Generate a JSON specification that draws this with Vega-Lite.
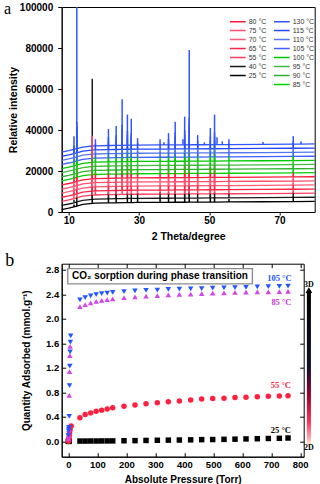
{
"$schema":"https://vega.github.io/schema/vega-lite/v6.json",
"padding":{"left":2.7,"top":0,"right":0,"bottom":0},
"background":"white",
"bounds":"flush",
"spacing":51.7,
"resolve":{"scale":{"color":"independent","shape":"independent"},"legend":{"color":"independent","shape":"independent"}},
"config":{"view":{"stroke":"black","strokeWidth":1},
"axis":{"labelFont":"Liberation Sans","labelFontWeight":"bold","labelColor":"black","titleFont":"Liberation Sans","titleFontWeight":"bold","titleColor":"black","tickColor":"black","domainColor":"black","grid":false,"labelFontSize":10,"titleFontSize":10.5,"labelOverlap":false}},
"datasets":{
"xrd":[
{"T":"25","x":8,"y":1200},{"T":"25","x":10,"y":1900},{"T":"25","x":11.5,"y":2500,"p":3700},{"T":"25","x":12.3,"y":2900,"p":4900},{"T":"25","x":14,"y":3700},{"T":"25","x":16.7,"y":4200,"p":11200},{"T":"25","x":17.6,"y":4300},{"T":"25","x":21.3,"y":4450,"p":7450},{"T":"25","x":23.5,"y":4500,"p":8500},{"T":"25","x":25.2,"y":4550},{"T":"25","x":26.7,"y":4600,"p":7100},{"T":"25","x":27.8,"y":4600,"p":6600},{"T":"25","x":29.6,"y":4650,"p":6650},{"T":"25","x":36,"y":4700,"p":7200},{"T":"25","x":38.4,"y":4700,"p":7200},{"T":"25","x":40.3,"y":4750,"p":8750},{"T":"25","x":43,"y":4750,"p":8250},{"T":"25","x":44.3,"y":4800,"p":9800},{"T":"25","x":46.7,"y":4800,"p":6300},{"T":"25","x":50.3,"y":4850,"p":8350},{"T":"25","x":51.5,"y":4850,"p":7350},{"T":"25","x":55.6,"y":4900,"p":6400},{"T":"25","x":65.3,"y":5000},{"T":"25","x":73.9,"y":5100,"p":7600},{"T":"25","x":80,"y":5200},
{"T":"40","x":8,"y":3200},{"T":"40","x":10,"y":3900},{"T":"40","x":11.5,"y":4500,"p":6000},{"T":"40","x":12.3,"y":4900,"p":7400},{"T":"40","x":14,"y":5700},{"T":"40","x":16.7,"y":6200,"p":65000},{"T":"40","x":17.6,"y":6300},{"T":"40","x":21.3,"y":6450,"p":9950},{"T":"40","x":23.5,"y":6500,"p":17000},{"T":"40","x":25.2,"y":6550},{"T":"40","x":26.7,"y":6600,"p":9600},{"T":"40","x":27.8,"y":6600,"p":9100},{"T":"40","x":29.6,"y":6650,"p":9150},{"T":"40","x":36,"y":6700,"p":9700},{"T":"40","x":38.4,"y":6700,"p":9700},{"T":"40","x":40.3,"y":6750,"p":11750},{"T":"40","x":43,"y":6750,"p":11250},{"T":"40","x":44.3,"y":6800,"p":13300},{"T":"40","x":46.7,"y":6800,"p":8800},{"T":"40","x":50.3,"y":6850,"p":10850},{"T":"40","x":51.5,"y":6850,"p":9850},{"T":"40","x":55.6,"y":6900,"p":8900},{"T":"40","x":65.3,"y":7000},{"T":"40","x":73.9,"y":7100,"p":10100},{"T":"40","x":80,"y":7200},
{"T":"55","x":8,"y":5200},{"T":"55","x":10,"y":5900},{"T":"55","x":11.5,"y":6500,"p":9500},{"T":"55","x":12.3,"y":6900,"p":14900},{"T":"55","x":14,"y":7700},{"T":"55","x":16.7,"y":8200,"p":37200},{"T":"55","x":17.6,"y":8300,"p":11300},{"T":"55","x":21.3,"y":8450,"p":12950},{"T":"55","x":23.5,"y":8500,"p":13000},{"T":"55","x":25.2,"y":8550,"p":17550},{"T":"55","x":26.7,"y":8600,"p":14600},{"T":"55","x":27.8,"y":8600,"p":14600},{"T":"55","x":29.6,"y":8650,"p":11150},{"T":"55","x":36,"y":8700,"p":11200},{"T":"55","x":38.4,"y":8700,"p":13200},{"T":"55","x":40.3,"y":8750,"p":15750},{"T":"55","x":43,"y":8750,"p":16750},{"T":"55","x":44.3,"y":8800,"p":17800},{"T":"55","x":46.7,"y":8800,"p":12300},{"T":"55","x":50.3,"y":8850,"p":13850},{"T":"55","x":51.5,"y":8850,"p":14850},{"T":"55","x":55.6,"y":8900,"p":10900},{"T":"55","x":65.3,"y":9000},{"T":"55","x":73.9,"y":9100,"p":12100},{"T":"55","x":80,"y":9200},
{"T":"65","x":8,"y":7200},{"T":"65","x":10,"y":7900},{"T":"65","x":11.5,"y":8500,"p":11500},{"T":"65","x":12.3,"y":8900,"p":16900},{"T":"65","x":14,"y":9700},{"T":"65","x":16.7,"y":10200,"p":26200},{"T":"65","x":17.6,"y":10300,"p":13300},{"T":"65","x":21.3,"y":10450,"p":14950},{"T":"65","x":23.5,"y":10500,"p":15000},{"T":"65","x":25.2,"y":10550,"p":19550},{"T":"65","x":26.7,"y":10600,"p":16600},{"T":"65","x":27.8,"y":10600,"p":16600},{"T":"65","x":29.6,"y":10650,"p":13150},{"T":"65","x":36,"y":10700,"p":13200},{"T":"65","x":38.4,"y":10700,"p":15200},{"T":"65","x":40.3,"y":10750,"p":17750},{"T":"65","x":43,"y":10750,"p":18750},{"T":"65","x":44.3,"y":10800,"p":19800},{"T":"65","x":46.7,"y":10800,"p":14300},{"T":"65","x":50.3,"y":10850,"p":15850},{"T":"65","x":51.5,"y":10850,"p":16850},{"T":"65","x":55.6,"y":10900,"p":12900},{"T":"65","x":65.3,"y":11000},{"T":"65","x":73.9,"y":11100,"p":14100},{"T":"65","x":80,"y":11200},
{"T":"70","x":8,"y":9200},{"T":"70","x":10,"y":9900},{"T":"70","x":11.5,"y":10500,"p":13500},{"T":"70","x":12.3,"y":10900,"p":18900},{"T":"70","x":14,"y":11700},{"T":"70","x":16.7,"y":12200,"p":22200},{"T":"70","x":17.6,"y":12300,"p":15300},{"T":"70","x":21.3,"y":12450,"p":16950},{"T":"70","x":23.5,"y":12500,"p":17000},{"T":"70","x":25.2,"y":12550,"p":21550},{"T":"70","x":26.7,"y":12600,"p":18600},{"T":"70","x":27.8,"y":12600,"p":18600},{"T":"70","x":29.6,"y":12650,"p":15150},{"T":"70","x":36,"y":12700,"p":15200},{"T":"70","x":38.4,"y":12700,"p":17200},{"T":"70","x":40.3,"y":12750,"p":19750},{"T":"70","x":43,"y":12750,"p":20750},{"T":"70","x":44.3,"y":12800,"p":21800},{"T":"70","x":46.7,"y":12800,"p":16300},{"T":"70","x":50.3,"y":12850,"p":17850},{"T":"70","x":51.5,"y":12850,"p":18850},{"T":"70","x":55.6,"y":12900,"p":14900},{"T":"70","x":65.3,"y":13000},{"T":"70","x":73.9,"y":13100,"p":16100},{"T":"70","x":80,"y":13200},
{"T":"75","x":8,"y":11200},{"T":"75","x":10,"y":11900},{"T":"75","x":11.5,"y":12500,"p":15500},{"T":"75","x":12.3,"y":12900,"p":20900},{"T":"75","x":14,"y":13700},{"T":"75","x":16.7,"y":14200,"p":20200},{"T":"75","x":17.6,"y":14300,"p":17300},{"T":"75","x":21.3,"y":14450,"p":18950},{"T":"75","x":23.5,"y":14500,"p":19000},{"T":"75","x":25.2,"y":14550,"p":23550},{"T":"75","x":26.7,"y":14600,"p":20600},{"T":"75","x":27.8,"y":14600,"p":20600},{"T":"75","x":29.6,"y":14650,"p":17150},{"T":"75","x":36,"y":14700,"p":17200},{"T":"75","x":38.4,"y":14700,"p":19200},{"T":"75","x":40.3,"y":14750,"p":21750},{"T":"75","x":43,"y":14750,"p":22750},{"T":"75","x":44.3,"y":14800,"p":23800},{"T":"75","x":46.7,"y":14800,"p":18300},{"T":"75","x":50.3,"y":14850,"p":19850},{"T":"75","x":51.5,"y":14850,"p":20850},{"T":"75","x":55.6,"y":14900,"p":16900},{"T":"75","x":65.3,"y":15000},{"T":"75","x":73.9,"y":15100,"p":18100},{"T":"75","x":80,"y":15200},
{"T":"80","x":8,"y":13200},{"T":"80","x":10,"y":13900},{"T":"80","x":11.5,"y":14500,"p":17500},{"T":"80","x":12.3,"y":14900,"p":22900},{"T":"80","x":14,"y":15700},{"T":"80","x":16.7,"y":16200,"p":19200},{"T":"80","x":17.6,"y":16300,"p":19300},{"T":"80","x":21.3,"y":16450,"p":20950},{"T":"80","x":23.5,"y":16500,"p":21000},{"T":"80","x":25.2,"y":16550,"p":25550},{"T":"80","x":26.7,"y":16600,"p":22600},{"T":"80","x":27.8,"y":16600,"p":22600},{"T":"80","x":29.6,"y":16650,"p":19150},{"T":"80","x":36,"y":16700,"p":19200},{"T":"80","x":38.4,"y":16700,"p":21200},{"T":"80","x":40.3,"y":16750,"p":23750},{"T":"80","x":43,"y":16750,"p":24750},{"T":"80","x":44.3,"y":16800,"p":25800},{"T":"80","x":46.7,"y":16800,"p":20300},{"T":"80","x":50.3,"y":16850,"p":21850},{"T":"80","x":51.5,"y":16850,"p":22850},{"T":"80","x":55.6,"y":16900,"p":18900},{"T":"80","x":65.3,"y":17000},{"T":"80","x":73.9,"y":17100,"p":20100},{"T":"80","x":80,"y":17200},
{"T":"85","x":8,"y":15200},{"T":"85","x":10,"y":15900},{"T":"85","x":11.5,"y":16500,"p":20000},{"T":"85","x":12.3,"y":16900,"p":26900},{"T":"85","x":14,"y":17700},{"T":"85","x":16.7,"y":18200,"p":20200},{"T":"85","x":17.6,"y":18300,"p":21300},{"T":"85","x":21.3,"y":18450,"p":23450},{"T":"85","x":23.5,"y":18500,"p":24000},{"T":"85","x":25.2,"y":18550,"p":27550},{"T":"85","x":26.7,"y":18600,"p":25600},{"T":"85","x":27.8,"y":18600,"p":25600},{"T":"85","x":29.6,"y":18650,"p":21150},{"T":"85","x":36,"y":18700,"p":21200},{"T":"85","x":38.4,"y":18700,"p":23200},{"T":"85","x":40.3,"y":18750,"p":25750},{"T":"85","x":43,"y":18750,"p":26750},{"T":"85","x":44.3,"y":18800,"p":29800},{"T":"85","x":46.7,"y":18800,"p":22300},{"T":"85","x":50.3,"y":18850,"p":24350},{"T":"85","x":51.5,"y":18850,"p":25850},{"T":"85","x":55.6,"y":18900,"p":21400},{"T":"85","x":65.3,"y":19000},{"T":"85","x":73.9,"y":19100,"p":22600},{"T":"85","x":80,"y":19200},
{"T":"90","x":8,"y":17200},{"T":"90","x":10,"y":17900},{"T":"90","x":11.5,"y":18500,"p":22000},{"T":"90","x":12.3,"y":18900,"p":28900},{"T":"90","x":14,"y":19700},{"T":"90","x":16.7,"y":20200,"p":22200},{"T":"90","x":17.6,"y":20300,"p":23300},{"T":"90","x":21.3,"y":20450,"p":25450},{"T":"90","x":23.5,"y":20500,"p":26000},{"T":"90","x":25.2,"y":20550,"p":29550},{"T":"90","x":26.7,"y":20600,"p":27600},{"T":"90","x":27.8,"y":20600,"p":27600},{"T":"90","x":29.6,"y":20650,"p":23150},{"T":"90","x":36,"y":20700,"p":23200},{"T":"90","x":38.4,"y":20700,"p":25200},{"T":"90","x":40.3,"y":20750,"p":27750},{"T":"90","x":43,"y":20750,"p":28750},{"T":"90","x":44.3,"y":20800,"p":31800},{"T":"90","x":46.7,"y":20800,"p":24300},{"T":"90","x":50.3,"y":20850,"p":26350},{"T":"90","x":51.5,"y":20850,"p":27850},{"T":"90","x":55.6,"y":20900,"p":23400},{"T":"90","x":65.3,"y":21000},{"T":"90","x":73.9,"y":21100,"p":24600},{"T":"90","x":80,"y":21200},
{"T":"95","x":8,"y":19200},{"T":"95","x":10,"y":19900},{"T":"95","x":11.5,"y":20500,"p":24000},{"T":"95","x":12.3,"y":20900,"p":30900},{"T":"95","x":14,"y":21700},{"T":"95","x":16.7,"y":22200,"p":24200},{"T":"95","x":17.6,"y":22300,"p":25300},{"T":"95","x":21.3,"y":22450,"p":27450},{"T":"95","x":23.5,"y":22500,"p":28000},{"T":"95","x":25.2,"y":22550,"p":31550},{"T":"95","x":26.7,"y":22600,"p":29600},{"T":"95","x":27.8,"y":22600,"p":29600},{"T":"95","x":29.6,"y":22650,"p":25150},{"T":"95","x":36,"y":22700,"p":25200},{"T":"95","x":38.4,"y":22700,"p":27200},{"T":"95","x":40.3,"y":22750,"p":29750},{"T":"95","x":43,"y":22750,"p":30750},{"T":"95","x":44.3,"y":22800,"p":33800},{"T":"95","x":46.7,"y":22800,"p":26300},{"T":"95","x":50.3,"y":22850,"p":28350},{"T":"95","x":51.5,"y":22850,"p":29850},{"T":"95","x":55.6,"y":22900,"p":25400},{"T":"95","x":65.3,"y":23000},{"T":"95","x":73.9,"y":23100,"p":26600},{"T":"95","x":80,"y":23200},
{"T":"100","x":8,"y":21200},{"T":"100","x":10,"y":21900},{"T":"100","x":11.5,"y":22500,"p":26000},{"T":"100","x":12.3,"y":22900,"p":32900},{"T":"100","x":14,"y":23700},{"T":"100","x":16.7,"y":24200,"p":26200},{"T":"100","x":17.6,"y":24300,"p":27300},{"T":"100","x":21.3,"y":24450,"p":29450},{"T":"100","x":23.5,"y":24500,"p":30000},{"T":"100","x":25.2,"y":24550,"p":33550},{"T":"100","x":26.7,"y":24600,"p":31600},{"T":"100","x":27.8,"y":24600,"p":31600},{"T":"100","x":29.6,"y":24650,"p":27150},{"T":"100","x":36,"y":24700,"p":27200},{"T":"100","x":38.4,"y":24700,"p":29200},{"T":"100","x":40.3,"y":24750,"p":31750},{"T":"100","x":43,"y":24750,"p":32750},{"T":"100","x":44.3,"y":24800,"p":35800},{"T":"100","x":46.7,"y":24800,"p":28300},{"T":"100","x":50.3,"y":24850,"p":30350},{"T":"100","x":51.5,"y":24850,"p":31850},{"T":"100","x":55.6,"y":24900,"p":27400},{"T":"100","x":65.3,"y":25000},{"T":"100","x":73.9,"y":25100,"p":28600},{"T":"100","x":80,"y":25200},
{"T":"105","x":8,"y":23200},{"T":"105","x":10,"y":23900},{"T":"105","x":11.5,"y":24500,"p":28500},{"T":"105","x":12.3,"y":24900,"p":39900},{"T":"105","x":14,"y":25700},{"T":"105","x":16.7,"y":26200},{"T":"105","x":17.6,"y":26300,"p":29300},{"T":"105","x":21.3,"y":26450,"p":32450},{"T":"105","x":23.5,"y":26500,"p":33500},{"T":"105","x":25.2,"y":26550,"p":38550},{"T":"105","x":26.7,"y":26600,"p":35600},{"T":"105","x":27.8,"y":26600,"p":34600},{"T":"105","x":29.6,"y":26650,"p":29650},{"T":"105","x":36,"y":26700,"p":29200},{"T":"105","x":38.4,"y":26700,"p":31700},{"T":"105","x":40.3,"y":26750,"p":34750},{"T":"105","x":43,"y":26750,"p":35750},{"T":"105","x":44.3,"y":26800,"p":41800},{"T":"105","x":46.7,"y":26800,"p":30800},{"T":"105","x":50.3,"y":26850,"p":32850},{"T":"105","x":51.5,"y":26850,"p":34850},{"T":"105","x":55.6,"y":26900,"p":29400},{"T":"105","x":65.3,"y":27000},{"T":"105","x":73.9,"y":27100,"p":30600},{"T":"105","x":80,"y":27200},
{"T":"110","x":8,"y":25200},{"T":"110","x":10,"y":25900},{"T":"110","x":11.5,"y":26500,"p":30500},{"T":"110","x":12.3,"y":26900,"p":41900},{"T":"110","x":14,"y":27700},{"T":"110","x":16.7,"y":28200},{"T":"110","x":17.6,"y":28300,"p":31300},{"T":"110","x":21.3,"y":28450,"p":34450},{"T":"110","x":23.5,"y":28500,"p":35500},{"T":"110","x":25.2,"y":28550,"p":40550},{"T":"110","x":26.7,"y":28600,"p":37600},{"T":"110","x":27.8,"y":28600,"p":36600},{"T":"110","x":29.6,"y":28650,"p":31650},{"T":"110","x":36,"y":28700,"p":31200},{"T":"110","x":38.4,"y":28700,"p":33700},{"T":"110","x":40.3,"y":28750,"p":36750},{"T":"110","x":43,"y":28750,"p":37750},{"T":"110","x":44.3,"y":28800,"p":43800},{"T":"110","x":46.7,"y":28800,"p":32800},{"T":"110","x":50.3,"y":28850,"p":34850},{"T":"110","x":51.5,"y":28850,"p":36850},{"T":"110","x":55.6,"y":28900,"p":31400},{"T":"110","x":65.3,"y":29000},{"T":"110","x":73.9,"y":29100,"p":32600},{"T":"110","x":80,"y":29200},
{"T":"115","x":8,"y":27200},{"T":"115","x":10,"y":27900},{"T":"115","x":11.5,"y":28500,"p":32500},{"T":"115","x":12.3,"y":28900,"p":43900},{"T":"115","x":14,"y":29700},{"T":"115","x":16.7,"y":30200},{"T":"115","x":17.6,"y":30300,"p":33300},{"T":"115","x":21.3,"y":30450,"p":36450},{"T":"115","x":23.5,"y":30500,"p":37500},{"T":"115","x":25.2,"y":30550,"p":42550},{"T":"115","x":26.7,"y":30600,"p":39600},{"T":"115","x":27.8,"y":30600,"p":38600},{"T":"115","x":29.6,"y":30650,"p":33650},{"T":"115","x":36,"y":30700,"p":33200},{"T":"115","x":38.4,"y":30700,"p":35700},{"T":"115","x":40.3,"y":30750,"p":38750},{"T":"115","x":43,"y":30750,"p":39750},{"T":"115","x":44.3,"y":30800,"p":45800},{"T":"115","x":46.7,"y":30800,"p":34800},{"T":"115","x":50.3,"y":30850,"p":36850},{"T":"115","x":51.5,"y":30850,"p":38850},{"T":"115","x":55.6,"y":30900,"p":33400},{"T":"115","x":65.3,"y":31000},{"T":"115","x":73.9,"y":31100,"p":34600},{"T":"115","x":80,"y":31200},
{"T":"130","x":8,"y":29200},{"T":"130","x":10,"y":29900},{"T":"130","x":11.5,"y":30500,"p":37000},{"T":"130","x":12.3,"y":30900,"p":100000},{"T":"130","x":14,"y":31700},{"T":"130","x":16.7,"y":32200},{"T":"130","x":17.6,"y":32300,"p":35500},{"T":"130","x":21.3,"y":32450,"p":40500},{"T":"130","x":23.5,"y":32500,"p":42000},{"T":"130","x":25.2,"y":32550,"p":55000},{"T":"130","x":26.7,"y":32600,"p":47500},{"T":"130","x":27.8,"y":32600,"p":45500},{"T":"130","x":29.6,"y":32650,"p":36000},{"T":"130","x":36,"y":32700,"p":35500},{"T":"130","x":37.1,"y":32700,"p":34000},{"T":"130","x":38.4,"y":32700,"p":38500},{"T":"130","x":40.3,"y":32750,"p":44000},{"T":"130","x":42.5,"y":32750,"p":35500},{"T":"130","x":43,"y":32750,"p":46500},{"T":"130","x":44.3,"y":32800,"p":79000},{"T":"130","x":46.7,"y":32800,"p":37500},{"T":"130","x":48.6,"y":32800,"p":34000},{"T":"130","x":50.3,"y":32850,"p":41000},{"T":"130","x":51.5,"y":32850,"p":47500},{"T":"130","x":52.2,"y":32850,"p":36500},{"T":"130","x":53.7,"y":32900,"p":34500},{"T":"130","x":55.6,"y":32900,"p":35500},{"T":"130","x":65.3,"y":33000,"p":34200},{"T":"130","x":73.9,"y":33100,"p":37000},{"T":"130","x":76.1,"y":33150,"p":34500},{"T":"130","x":80,"y":33200}
],
"iso":[
{"s":"25","P":0,"Q":0},{"s":"25","P":1,"Q":0},{"s":"25","P":3,"Q":0.005},{"s":"25","P":40,"Q":0.005},{"s":"25","P":58,"Q":0.005},{"s":"25","P":77,"Q":0.006},{"s":"25","P":96,"Q":0.006},{"s":"25","P":115,"Q":0.007},{"s":"25","P":134,"Q":0.007},{"s":"25","P":153,"Q":0.008},{"s":"25","P":192,"Q":0.01},{"s":"25","P":230,"Q":0.012},{"s":"25","P":268,"Q":0.015},{"s":"25","P":307,"Q":0.018},{"s":"25","P":345,"Q":0.02},{"s":"25","P":383,"Q":0.022},{"s":"25","P":422,"Q":0.025},{"s":"25","P":460,"Q":0.028},{"s":"25","P":498,"Q":0.03},{"s":"25","P":537,"Q":0.033},{"s":"25","P":575,"Q":0.036},{"s":"25","P":613,"Q":0.04},{"s":"25","P":652,"Q":0.043},{"s":"25","P":690,"Q":0.047},{"s":"25","P":728,"Q":0.05},{"s":"25","P":758,"Q":0.055},
{"s":"55","P":0.5,"Q":0},{"s":"55","P":1,"Q":0.02},{"s":"55","P":2,"Q":0.05},{"s":"55","P":3,"Q":0.09},{"s":"55","P":4,"Q":0.13},{"s":"55","P":5,"Q":0.17},{"s":"55","P":6,"Q":0.21},{"s":"55","P":10,"Q":0.25},{"s":"55","P":40,"Q":0.385},{"s":"55","P":58,"Q":0.44},{"s":"55","P":77,"Q":0.465},{"s":"55","P":96,"Q":0.49},{"s":"55","P":115,"Q":0.51},{"s":"55","P":134,"Q":0.53},{"s":"55","P":153,"Q":0.55},{"s":"55","P":192,"Q":0.575},{"s":"55","P":230,"Q":0.595},{"s":"55","P":268,"Q":0.615},{"s":"55","P":307,"Q":0.63},{"s":"55","P":345,"Q":0.645},{"s":"55","P":383,"Q":0.66},{"s":"55","P":422,"Q":0.675},{"s":"55","P":460,"Q":0.69},{"s":"55","P":498,"Q":0.7},{"s":"55","P":537,"Q":0.705},{"s":"55","P":575,"Q":0.715},{"s":"55","P":613,"Q":0.72},{"s":"55","P":652,"Q":0.73},{"s":"55","P":690,"Q":0.735},{"s":"55","P":728,"Q":0.74},{"s":"55","P":758,"Q":0.745},
{"s":"85","P":0.5,"Q":0.04},{"s":"85","P":1,"Q":0.09},{"s":"85","P":1.5,"Q":0.14},{"s":"85","P":2,"Q":0.19},{"s":"85","P":3,"Q":0.75},{"s":"85","P":4,"Q":1.14},{"s":"85","P":5,"Q":1.4},{"s":"85","P":6,"Q":1.55},{"s":"85","P":40,"Q":2.2},{"s":"85","P":58,"Q":2.23},{"s":"85","P":77,"Q":2.26},{"s":"85","P":96,"Q":2.285},{"s":"85","P":115,"Q":2.3},{"s":"85","P":134,"Q":2.315},{"s":"85","P":153,"Q":2.325},{"s":"85","P":192,"Q":2.345},{"s":"85","P":230,"Q":2.36},{"s":"85","P":268,"Q":2.37},{"s":"85","P":307,"Q":2.38},{"s":"85","P":345,"Q":2.39},{"s":"85","P":383,"Q":2.4},{"s":"85","P":422,"Q":2.405},{"s":"85","P":460,"Q":2.41},{"s":"85","P":498,"Q":2.42},{"s":"85","P":537,"Q":2.425},{"s":"85","P":575,"Q":2.43},{"s":"85","P":613,"Q":2.435},{"s":"85","P":652,"Q":2.44},{"s":"85","P":690,"Q":2.44},{"s":"85","P":728,"Q":2.445},{"s":"85","P":758,"Q":2.45},
{"s":"105","P":0.5,"Q":0.1},{"s":"105","P":1,"Q":0.17},{"s":"105","P":1.5,"Q":0.2},{"s":"105","P":2,"Q":0.23},{"s":"105","P":3,"Q":0.41},{"s":"105","P":4,"Q":0.91},{"s":"105","P":5,"Q":1.23},{"s":"105","P":6,"Q":1.46},{"s":"105","P":7,"Q":1.62},{"s":"105","P":8,"Q":1.72},{"s":"105","P":40,"Q":2.31},{"s":"105","P":58,"Q":2.345},{"s":"105","P":77,"Q":2.375},{"s":"105","P":96,"Q":2.395},{"s":"105","P":115,"Q":2.41},{"s":"105","P":134,"Q":2.42},{"s":"105","P":153,"Q":2.43},{"s":"105","P":192,"Q":2.445},{"s":"105","P":230,"Q":2.455},{"s":"105","P":268,"Q":2.465},{"s":"105","P":307,"Q":2.47},{"s":"105","P":345,"Q":2.48},{"s":"105","P":383,"Q":2.485},{"s":"105","P":422,"Q":2.49},{"s":"105","P":460,"Q":2.495},{"s":"105","P":498,"Q":2.5},{"s":"105","P":537,"Q":2.505},{"s":"105","P":575,"Q":2.51},{"s":"105","P":613,"Q":2.515},{"s":"105","P":652,"Q":2.52},{"s":"105","P":690,"Q":2.525},{"s":"105","P":728,"Q":2.53},{"s":"105","P":758,"Q":2.535}
]},
"vconcat":[
{"width":253,"height":205,
"layer":[
{"data":{"name":"xrd"},"mark":{"type":"line","strokeWidth":1.3},
"encoding":{
"x":{"field":"x","type":"quantitative","scale":{"domain":[8,80],"nice":false,"zero":false},"axis":{"values":[10,20,30,40,50,60,70,80],"title":"2 Theta/degree","tickSize":3,"labelPadding":0,"titlePadding":6,"labelOverlap":false}},
"y":{"field":"y","type":"quantitative","scale":{"domain":[0,100000],"nice":false},"axis":{"values":[0,20000,40000,60000,80000,100000],"format":"d","title":"Relative intensity","tickSize":4,"labelPadding":5,"titlePadding":1,"labelOverlap":false}},
"color":{"field":"T","type":"nominal","scale":{"domain":["80","75","70","65","55","40","25"," ","130","115","110","105","100","95","90","85"],"range":["#ff1a3c","#ff4d6d","#ff5c78","#ff2445","#ff3d5e","#1a1a1a","#000000","rgba(0,0,0,0)","#3355ff","#2447ff","#5577ee","#3d5fff","#00c800","#3cbf3c","#2db32d","#00d400"]},
"legend":{"title":null,"orient":"none","legendX":176,"legendY":10,"columns":2,"columnPadding":4,"rowPadding":1,"symbolType":"M-3.5,0L1,0","symbolSize":49,"symbolStrokeWidth":1.5,"labelFont":"Liberation Sans","labelFontSize":7,"labelColor":"#333333","labelOffset":2,"padding":0,"labelExpr":"datum.label == ' ' ? '' : datum.label + ' °C'"}}}},
{"data":{"name":"xrd"},"transform":[{"filter":{"field":"p","valid":true}}],"mark":{"type":"rule","strokeWidth":1.5},
"encoding":{"x":{"field":"x","type":"quantitative"},"y":{"field":"y","type":"quantitative"},"y2":{"field":"p"},"color":{"field":"T","type":"nominal"}}},
{"data":{"values":[{}]},"mark":{"type":"text","text":"a","font":"Liberation Serif","fontSize":16,"align":"left","baseline":"alphabetic","color":"black"},
"encoding":{"x":{"datum":-8.4},"y":{"datum":96700}}}
]},
{"width":242,"height":193,
"resolve":{"axis":{"x":"independent","y":"independent"}},
"layer":[
{"data":{"name":"iso"},"mark":{"type":"point","filled":true,"opacity":1,"size":30},
"encoding":{
"x":{"field":"P","type":"quantitative","scale":{"domain":[-23,812],"nice":false,"zero":false},"axis":{"orient":"bottom","values":[0,100,200,300,400,500,600,700,800],"title":"Absolute Pressure (Torr)","tickSize":-4,"labelPadding":7,"titlePadding":5,"labelFontSize":9.5,"titleFontSize":10,"labelOverlap":false}},
"y":{"field":"Q","type":"quantitative","scale":{"domain":[-0.25,2.9],"nice":false,"zero":false},"axis":{"orient":"left","values":[0,0.4,0.8,1.2,1.6,2,2.4,2.8],"format":".1f","title":"Quantity Adsorbed (mmol.g⁻¹)","tickSize":-4,"labelPadding":7,"titlePadding":14,"labelFontSize":9.5,"titleFontSize":10,"labelOverlap":false}},
"color":{"field":"s","type":"nominal","scale":{"domain":["25","55","85","105"],"range":["#000000","#ff2040","#d444e8","#2255ff"]},"legend":null},
"shape":{"field":"s","type":"nominal","scale":{"domain":["25","55","85","105"],"range":["square","circle","triangle-up","triangle-down"]},"legend":null}}},
{"data":{"name":"iso"},"mark":{"type":"point","opacity":0,"size":1},
"encoding":{
"x":{"field":"P","type":"quantitative","axis":{"orient":"top","values":[0,100,200,300,400,500,600,700,800],"labels":false,"title":null,"tickSize":-4,"domain":false}},
"y":{"field":"Q","type":"quantitative","axis":{"orient":"right","values":[0,0.4,0.8,1.2,1.6,2,2.4,2.8],"labels":false,"title":null,"tickSize":-4,"domain":false}}}},
{"data":{"values":[{}]},"mark":{"type":"rect","fill":"white","stroke":"#8a8a8a","strokeWidth":1.3},
"encoding":{"x":{"datum":-2,"axis":null},"x2":{"datum":635},"y":{"datum":2.57,"axis":null},"y2":{"datum":2.82}}},
{"data":{"values":[{}]},"mark":{"type":"text","text":"CO₂ sorption during phase transition","font":"Liberation Sans","fontWeight":"bold","fontSize":10,"align":"center","baseline":"middle","color":"black"},
"encoding":{"x":{"datum":316,"axis":null},"y":{"datum":2.695,"axis":null}}},
{"data":{"values":[{}]},"mark":{"type":"text","text":"105 °C","font":"Liberation Serif","fontWeight":"bold","fontSize":8.5,"align":"right","baseline":"middle","color":"#2255ff"},
"encoding":{"x":{"datum":770,"axis":null},"y":{"datum":2.67,"axis":null}}},
{"data":{"values":[{}]},"mark":{"type":"text","text":"85 °C","font":"Liberation Serif","fontWeight":"bold","fontSize":8.5,"align":"right","baseline":"middle","color":"#cc33dd"},
"encoding":{"x":{"datum":770,"axis":null},"y":{"datum":2.27,"axis":null}}},
{"data":{"values":[{}]},"mark":{"type":"text","text":"55 °C","font":"Liberation Serif","fontWeight":"bold","fontSize":8.5,"align":"right","baseline":"middle","color":"#ff2040"},
"encoding":{"x":{"datum":768,"axis":null},"y":{"datum":0.92,"axis":null}}},
{"data":{"values":[{}]},"mark":{"type":"text","text":"25 °C","font":"Liberation Serif","fontWeight":"bold","fontSize":8.5,"align":"right","baseline":"middle","color":"black"},
"encoding":{"x":{"datum":768,"axis":null},"y":{"datum":0.19,"axis":null}}},
{"data":{"values":[{}]},"mark":{"type":"rect","fill":{"gradient":"linear","x1":0,"y1":0,"x2":0,"y2":1,"stops":[{"offset":0,"color":"#000000"},{"offset":0.5,"color":"#10102e"},{"offset":0.68,"color":"#a00030"},{"offset":0.85,"color":"#ff3355"},{"offset":0.95,"color":"#ffa0b0"},{"offset":1,"color":"#fff4c0"}]}},
"encoding":{"x":{"datum":823,"axis":null},"x2":{"datum":837},"y":{"datum":-0.06,"axis":null},"y2":{"datum":2.45}}},
{"data":{"values":[{}]},"mark":{"type":"point","shape":"triangle-up","filled":true,"color":"black","opacity":1,"size":45},
"encoding":{"x":{"datum":830,"axis":null},"y":{"datum":2.47,"axis":null}}},
{"data":{"values":[{}]},"mark":{"type":"text","text":"3D","font":"Liberation Serif","fontWeight":"bold","fontSize":8,"align":"center","baseline":"middle","color":"black"},
"encoding":{"x":{"datum":830,"axis":null},"y":{"datum":2.56,"axis":null}}},
{"data":{"values":[{}]},"mark":{"type":"text","text":"2D","font":"Liberation Serif","fontWeight":"bold","fontSize":8,"align":"center","baseline":"middle","color":"black"},
"encoding":{"x":{"datum":830,"axis":null},"y":{"datum":-0.11,"axis":null}}},
{"data":{"values":[{}]},"mark":{"type":"text","text":"b","font":"Liberation Serif","fontSize":18,"align":"left","baseline":"alphabetic","color":"black"},
"encoding":{"x":{"datum":-218,"axis":null},"y":{"datum":2.862,"axis":null}}}
]}
]
}
